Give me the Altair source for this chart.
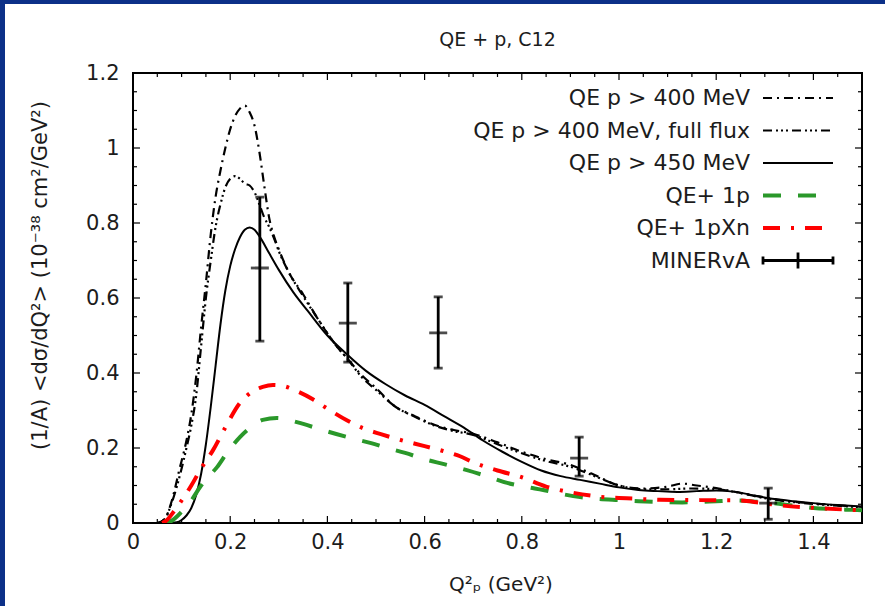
import altair as alt
import pandas as pd

# ---------------- data ----------------
x_400 = [0.05, 0.065, 0.08, 0.095, 0.11, 0.12, 0.13, 0.14, 0.15, 0.16, 0.17, 0.18, 0.19, 0.2, 0.21, 0.22, 0.23, 0.24, 0.25, 0.26, 0.27, 0.28, 0.29, 0.3, 0.32, 0.35, 0.38, 0.42, 0.44, 0.47, 0.5, 0.54, 0.58, 0.62, 0.66, 0.7, 0.75, 0.8, 0.85, 0.9, 0.95, 1.0, 1.05, 1.1, 1.13, 1.16, 1.2, 1.25, 1.3, 1.35, 1.4, 1.45, 1.5]
y_400 = [0.0, 0.01, 0.06, 0.14, 0.22, 0.29, 0.39, 0.52, 0.64, 0.77, 0.87, 0.94, 1.0, 1.05, 1.085, 1.105, 1.113, 1.095, 1.06, 0.99, 0.9, 0.815, 0.765, 0.73, 0.67, 0.61, 0.545, 0.47, 0.44, 0.395, 0.36, 0.31, 0.285, 0.262, 0.248, 0.238, 0.215, 0.19, 0.17, 0.155, 0.128, 0.1, 0.092, 0.097, 0.105, 0.1, 0.093, 0.08, 0.068, 0.058, 0.052, 0.047, 0.043]

x_full = [0.05, 0.065, 0.08, 0.095, 0.11, 0.12, 0.13, 0.14, 0.15, 0.16, 0.17, 0.18, 0.19, 0.2, 0.21, 0.22, 0.23, 0.24, 0.25, 0.26, 0.27, 0.28, 0.29, 0.3, 0.32, 0.35, 0.38, 0.42, 0.44, 0.47, 0.5, 0.54, 0.58, 0.62, 0.66, 0.7, 0.75, 0.8, 0.85, 0.9, 0.95, 1.0, 1.05, 1.1, 1.15, 1.2, 1.25, 1.3, 1.35, 1.4, 1.45, 1.5]
y_full = [0.0, 0.01, 0.055, 0.12, 0.2, 0.26, 0.34, 0.47, 0.6, 0.7, 0.79, 0.85, 0.895, 0.918, 0.925, 0.918, 0.905, 0.9, 0.882, 0.85, 0.815, 0.79, 0.76, 0.725, 0.67, 0.605, 0.545, 0.47, 0.44, 0.39, 0.355, 0.31, 0.283, 0.26, 0.245, 0.235, 0.21, 0.186, 0.165, 0.15, 0.125, 0.1, 0.09, 0.09, 0.092, 0.09, 0.08, 0.066, 0.057, 0.051, 0.046, 0.042]

x_450 = [0.07, 0.09, 0.1, 0.11, 0.12, 0.13, 0.14, 0.15, 0.16, 0.17, 0.18, 0.19, 0.2, 0.21, 0.22, 0.23, 0.24, 0.25, 0.26, 0.28, 0.3, 0.33, 0.36, 0.4, 0.44, 0.48, 0.52, 0.56, 0.6, 0.64, 0.68, 0.72, 0.76, 0.8, 0.84, 0.88, 0.92, 0.96, 1.0, 1.04, 1.08, 1.12, 1.16, 1.2, 1.24, 1.28, 1.32, 1.36, 1.4, 1.45, 1.5]
y_450 = [0.0, 0.002, 0.008, 0.02, 0.04, 0.075, 0.13, 0.21, 0.31, 0.42, 0.53, 0.62, 0.685, 0.73, 0.762, 0.782, 0.788, 0.782, 0.765, 0.72, 0.675, 0.615, 0.565, 0.5, 0.45, 0.405, 0.37, 0.34, 0.315, 0.285, 0.255, 0.22, 0.19, 0.163, 0.14, 0.125, 0.115, 0.105, 0.095, 0.088, 0.085, 0.083, 0.085, 0.087, 0.083, 0.073, 0.064, 0.058, 0.053, 0.048, 0.044]

x_1p = [0.07, 0.082, 0.1, 0.12, 0.138, 0.155, 0.173, 0.195, 0.22, 0.245, 0.267, 0.296, 0.337, 0.39, 0.447, 0.49, 0.523, 0.56, 0.6, 0.64, 0.687, 0.73, 0.77, 0.81, 0.844, 0.88, 0.92, 0.96, 1.0, 1.04, 1.084, 1.13, 1.167, 1.2, 1.243, 1.28, 1.317, 1.36, 1.4, 1.44, 1.48, 1.5]
y_1p = [0.0, 0.008, 0.03, 0.06, 0.096, 0.123, 0.149, 0.19, 0.229, 0.258, 0.275, 0.28, 0.269, 0.248, 0.227, 0.213, 0.2, 0.187, 0.17, 0.157, 0.141, 0.124, 0.107, 0.096, 0.088, 0.078, 0.069, 0.064, 0.061, 0.058, 0.056, 0.055, 0.056, 0.058, 0.06, 0.057, 0.053, 0.046, 0.04, 0.037, 0.035, 0.034]

x_1pxn = [0.06, 0.07, 0.082, 0.1, 0.12, 0.138, 0.165, 0.19, 0.22, 0.245, 0.267, 0.288, 0.31, 0.34, 0.37, 0.4, 0.44, 0.473, 0.51, 0.549, 0.6, 0.638, 0.673, 0.7, 0.75, 0.8, 0.85, 0.9, 0.961, 1.016, 1.084, 1.167, 1.249, 1.29, 1.325, 1.407, 1.481, 1.5]
y_1pxn = [0.0, 0.008, 0.027, 0.06, 0.1, 0.141, 0.195, 0.255, 0.32, 0.35, 0.363, 0.368, 0.365, 0.35, 0.33, 0.305, 0.274, 0.253, 0.237, 0.222, 0.205, 0.192, 0.178, 0.162, 0.14, 0.122, 0.097, 0.082, 0.07, 0.066, 0.062, 0.061, 0.06, 0.054, 0.048, 0.04, 0.035, 0.034]

minerva_x = [0.261, 0.442, 0.628, 0.918, 1.307]
minerva_y = [0.68, 0.533, 0.507, 0.173, 0.053]
minerva_lo = [0.485, 0.429, 0.413, 0.125, 0.01]
minerva_hi = [0.869, 0.64, 0.603, 0.229, 0.093]

x_major = [0, 0.2, 0.4, 0.6, 0.8, 1.0, 1.2, 1.4]
y_major = [0, 0.2, 0.4, 0.6, 0.8, 1.0, 1.2]
x_minor = [0.05, 0.1, 0.15, 0.25, 0.3, 0.35, 0.45, 0.5, 0.55, 0.65, 0.7, 0.75, 0.85, 0.9, 0.95, 1.05, 1.1, 1.15, 1.25, 1.3, 1.35, 1.45]
y_minor = [0.05, 0.1, 0.15, 0.25, 0.3, 0.35, 0.45, 0.5, 0.55, 0.65, 0.7, 0.75, 0.85, 0.9, 0.95, 1.05, 1.1, 1.15]

title_text = "QE + p, C12"
x_title = "Q²ₚ (GeV²)"
y_title = "(1/A) <dσ/dQ²> (10⁻³⁸ cm²/GeV²)"

# ---------------- layout / style ----------------
W, H = 729, 450
PAD_L, PAD_T = 133, 73
FONT = "DejaVu Sans"
TXT = "#1c1c1c"
GREEN = "#2a982a"
RED = "#ff0000"
FRAME_BLUE = "#0c3088"
TICK_FS = 21
LEG_FS = 22

xs = alt.Scale(domain=[0, 1.5], nice=False, zero=False)
ys = alt.Scale(domain=[0, 1.2], nice=False, zero=False)

X_AX = alt.Axis(values=x_major, format="~g", ticks=False, domain=False, grid=False,
                labelPadding=8, labelFontSize=TICK_FS, titleFontSize=20,
                titleX=W / 2 + 3, titleY=61, titleBaseline="middle", labelFlush=False)
Y_AX = alt.Axis(values=y_major, format="~g", ticks=False, domain=False, grid=False,
                labelPadding=14, labelFontSize=TICK_FS, titleFontSize=21,
                titleX=-93, titleY=202, titleBaseline="middle", labelFlush=False)


def X(field):
    return alt.X(f"{field}:Q", scale=xs, axis=X_AX, title=x_title)


def Y(field):
    return alt.Y(f"{field}:Q", scale=ys, axis=Y_AX, title=y_title)


series = [
    ("QE p > 400 MeV", x_400, y_400, "#000000", [9, 5, 2, 5], 2.2),
    ("QE p > 400 MeV, full flux", x_full, y_full, "#000000", [9, 4, 2, 3, 2, 3, 2, 4], 2.2),
    ("QE p > 450 MeV", x_450, y_450, "#000000", None, 2),
    ("QE+ 1p", x_1p, y_1p, GREEN, [18, 17], 4),
    ("QE+ 1pXn", x_1pxn, y_1pxn, RED, [17, 11, 3, 11], 4),
]

layers = []


# inward ticks on all four sides
def xticks(vals, length):
    d = pd.DataFrame({"x": vals})
    b = alt.Chart(d).mark_rule(color="black", strokeWidth=1.2).encode(
        x=X("x"), y=alt.value(H), y2=alt.value(H - length))
    t = alt.Chart(d).mark_rule(color="black", strokeWidth=1.2).encode(
        x=X("x"), y=alt.value(0), y2=alt.value(length))
    return [b, t]


def yticks(vals, length):
    d = pd.DataFrame({"y": vals})
    l = alt.Chart(d).mark_rule(color="black", strokeWidth=1.2).encode(
        y=Y("y"), x=alt.value(0), x2=alt.value(length))
    r = alt.Chart(d).mark_rule(color="black", strokeWidth=1.2).encode(
        y=Y("y"), x=alt.value(W), x2=alt.value(W - length))
    return [l, r]


layers += xticks(x_major, 7) + xticks(x_minor, 4) + yticks(y_major, 7) + yticks(y_minor, 4)

# curves
for name, xv, yv, col, dash, sw in series:
    d = pd.DataFrame({"x": xv, "y": yv})
    kw = dict(color=col, strokeWidth=sw, interpolate="monotone", clip=True)
    if dash:
        kw["strokeDash"] = dash
    layers.append(alt.Chart(d).mark_line(**kw).encode(x=X("x"), y=Y("y")))

# MINERvA data with error bars
mdf = pd.DataFrame({"x": minerva_x, "y": minerva_y, "lo": minerva_lo, "hi": minerva_hi})
base = alt.Chart(mdf)
layers.append(base.mark_rule(color="black", strokeWidth=2.8).encode(
    x=X("x"), y=Y("lo"), y2="hi:Q"))
for fld, size in (("lo", 9), ("hi", 9), ("y", 18)):
    layers.append(base.mark_tick(color="black", orient="horizontal", size=size, thickness=2.8).encode(
        x=X("x"), y=Y(fld)))

# legend (gnuplot style: text right-aligned, sample to the right)
one = pd.DataFrame({"k": [0]})
LEG_TXT_X, LEG_S0, LEG_S1 = 617, 630, 700
row_y = [25, 57.5, 90, 122.5, 155, 187.5]
labels = [s[0] for s in series] + ["MINERvA"]
for i, lab in enumerate(labels):
    yy = row_y[i]
    layers.append(alt.Chart(one).mark_text(text=lab, align="right", baseline="middle",
                                           font=FONT, fontSize=LEG_FS, color=TXT).encode(
        x=alt.value(LEG_TXT_X), y=alt.value(yy)))
    if i < len(series):
        _, _, _, col, dash, sw = series[i]
        kw = dict(color=col, strokeWidth=sw)
        if dash:
            kw["strokeDash"] = dash
        layers.append(alt.Chart(one).mark_rule(**kw).encode(
            x=alt.value(LEG_S0), x2=alt.value(LEG_S1), y=alt.value(yy)))
    else:
        layers.append(alt.Chart(one).mark_rule(color="black", strokeWidth=2.8).encode(
            x=alt.value(LEG_S0), x2=alt.value(LEG_S1), y=alt.value(yy)))
        for xx, half in ((LEG_S0, 4), (LEG_S1, 4), ((LEG_S0 + LEG_S1) / 2, 8)):
            layers.append(alt.Chart(one).mark_rule(color="black", strokeWidth=2.8).encode(
                x=alt.value(xx), y=alt.value(yy - half), y2=alt.value(yy + half)))

# chart title as a text mark centred over the plot
layers.append(alt.Chart(one).mark_text(text=title_text, align="center", baseline="middle",
                                       font=FONT, fontSize=19, color=TXT).encode(
    x=alt.value(W / 2), y=alt.value(40 - PAD_T)))

# dark-blue slide frame (top and left strips)
layers.append(alt.Chart(one).mark_rect(color=FRAME_BLUE).encode(
    x=alt.value(-PAD_L), x2=alt.value(-PAD_L + 5), y=alt.value(-PAD_T), y2=alt.value(606 - PAD_T)))
layers.append(alt.Chart(one).mark_rect(color=FRAME_BLUE).encode(
    x=alt.value(-PAD_L), x2=alt.value(885 - PAD_L), y=alt.value(-PAD_T), y2=alt.value(-PAD_T + 4)))

chart = alt.layer(*layers).properties(
    width=W, height=H,
    autosize=alt.AutoSizeParams(type="none"),
    padding={"left": PAD_L, "top": PAD_T, "right": 885 - PAD_L - W, "bottom": 606 - PAD_T - H},
    background="white",
).configure_view(
    stroke="black", strokeWidth=2
).configure_axis(
    labelFont=FONT, titleFont=FONT, labelColor=TXT, titleColor=TXT, titleFontWeight="normal"
)

chart.save("out.html", embed_options={"renderer": "svg", "actions": False})
